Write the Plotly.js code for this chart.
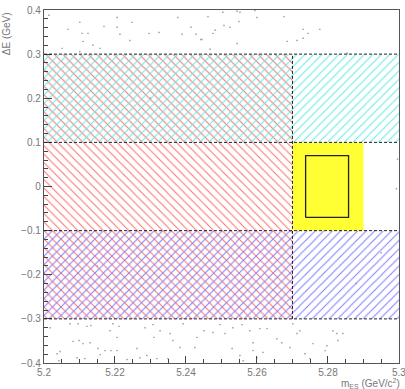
<!DOCTYPE html>
<html>
<head>
<meta charset="utf-8">
<script src="https://cdn.plot.ly/plotly-3.0.1.min.js"></script>
<style>html,body{margin:0;padding:0;background:#fff;}#chart{width:405px;height:389px;}</style>
</head>
<body>
<div id="chart"></div>
<script>
// ---- data ----
// hatched sideband regions (m_ES range, ΔE range)
const bandName = ['red', 'cyan', 'blue'];
const bandX0 = [5.2, 5.2, 5.2];
const bandX1 = [5.27, 5.3, 5.3];
const bandY0 = [-0.3, 0.1, -0.3];
const bandY1 = [0.3, 0.3, -0.1];
// signal box (yellow) and inner box
const sigX = [5.27, 5.29];
const sigY = [-0.1, 0.1];
const boxX = [5.2737, 5.2858];
const boxY = [-0.07, 0.07];
// dashed region borders
const lineX0 = [5.2, 5.2, 5.2, 5.2, 5.27];
const lineX1 = [5.3, 5.3, 5.3, 5.3, 5.27];
const lineY0 = [0.3, 0.1, -0.1, -0.3, -0.3];
const lineY1 = [0.3, 0.1, -0.1, -0.3, 0.3];
// events
const evX = [5.2014,5.2068,5.2101,5.2107,5.2124,5.2110,5.2138,5.2158,5.2169,5.2206,5.2206,5.2214,5.2242,5.2248,5.2296,5.2324,5.2377,5.2389,5.2414,5.2428,5.2445,5.2462,5.2476,5.2504,5.2507,5.2051,5.2101,5.2544,5.2552,5.2594,5.2600,5.2549,5.2524,5.2482,5.2676,5.2730,5.2744,5.2777,5.2730,5.2713,5.2685,5.2544,5.2442,5.2468,5.2854,
  5.2017,5.2073,5.2096,5.2121,5.2132,5.2194,5.2211,5.2186,5.2082,5.2099,5.2110,5.2130,5.2152,5.2172,5.2189,5.2206,5.2206,5.2045,5.2037,5.2042,5.2093,5.2115,5.2158,5.2234,5.2262,5.2270,5.2285,5.2307,5.2327,5.2310,5.2355,5.2363,5.2290,5.2318,5.2349,5.2383,5.2392,5.2425,5.2431,5.2451,5.2476,5.2496,5.2510,5.2532,5.2558,5.2580,5.2608,5.2628,5.2589,5.2589,5.2530,5.2552,5.2561,5.2600,5.2617,5.2656,5.2670,5.2693,5.2713,5.2721,5.2735,5.2749,5.2758,5.2797,5.2814,5.2825,5.2842,5.2828,5.2792,5.2701,
  5.2996,5.2993,5.2950,5.2880,5.2300,5.2150];
const evY = [0.388,0.356,0.372,0.347,0.347,0.329,0.320,0.313,0.363,0.383,0.361,0.345,0.331,0.372,0.347,0.349,0.383,0.345,0.361,0.345,0.333,0.385,0.347,0.395,0.365,0.313,0.306,0.397,0.395,0.399,0.383,0.374,0.361,0.354,0.385,0.356,0.347,0.356,0.336,0.331,0.329,0.324,0.333,0.311,0.302,
  -0.320,-0.311,-0.311,-0.317,-0.315,-0.311,-0.317,-0.327,-0.351,-0.349,-0.356,-0.354,-0.367,-0.372,-0.372,-0.372,-0.342,-0.374,-0.379,-0.395,-0.388,-0.390,-0.381,-0.392,-0.367,-0.388,-0.320,-0.313,-0.327,-0.342,-0.333,-0.349,-0.383,-0.390,-0.390,-0.365,-0.311,-0.365,-0.342,-0.327,-0.331,-0.313,-0.333,-0.320,-0.313,-0.327,-0.322,-0.322,-0.354,-0.372,-0.367,-0.383,-0.395,-0.388,-0.376,-0.345,-0.354,-0.365,-0.333,-0.327,-0.379,-0.390,-0.356,-0.361,-0.327,-0.333,-0.333,-0.349,-0.372,-0.311,
  0.062,-0.005,-0.150,-0.220,0.200,-0.180];
const xTicks = [5.2, 5.22, 5.24, 5.26, 5.28, 5.3];
const xTickText = ['5.2', '5.22', '5.24', '5.26', '5.28', '5.3'];
const yTicks = [-0.4, -0.3, -0.2, -0.1, 0, 0.1, 0.2, 0.3, 0.4];
const yTickText = ['\u22120.4', '\u22120.3', '\u22120.2', '\u22120.1', '0', '0.1', '0.2', '0.3', '0.4'];

// ---- styles ----
const bandStyle = {
  red:  {shape: '\\', fg: '#ff7070'},
  cyan: {shape: '/',  fg: '#66e8e8'},
  blue: {shape: '/',  fg: '#8080ff'}
};

function rectPath(x, y) {
  return {x: [x[0], x[1], x[1], x[0], x[0]], y: [y[0], y[0], y[1], y[1], y[0]]};
}

const traces = [];
bandName.forEach((n, i) => {
  const p = rectPath([bandX0[i], bandX1[i]], [bandY0[i], bandY1[i]]);
  traces.push({
    type: 'scatter', mode: 'none', x: p.x, y: p.y, fill: 'toself',
    fillcolor: 'rgba(0,0,0,0)',
    fillpattern: {shape: bandStyle[n].shape, fgcolor: bandStyle[n].fg, bgcolor: 'rgba(0,0,0,0)', size: 6, solidity: 0.17},
    hoverinfo: 'skip', showlegend: false
  });
});
const sp = rectPath(sigX, sigY);
traces.push({type: 'scatter', mode: 'none', x: sp.x, y: sp.y, fill: 'toself', fillcolor: '#ffff33', hoverinfo: 'skip', showlegend: false});
const bp = rectPath(boxX, boxY);
traces.push({type: 'scatter', mode: 'lines', x: bp.x, y: bp.y, line: {color: '#222', width: 1.3}, hoverinfo: 'skip', showlegend: false});
traces.push({type: 'scatter', mode: 'markers', x: evX, y: evY,
  marker: {symbol: 'square', size: 1.4, color: '#999', line: {width: 0}}, hoverinfo: 'skip', showlegend: false});

const shapes = lineX0.map((x0, i) => ({
  type: 'line', xref: 'x', yref: 'y', x0: x0, x1: lineX1[i], y0: lineY0[i], y1: lineY1[i],
  line: {color: '#222', width: 1, dash: '3px,2px'}, layer: 'above'
}));

const tickFont = {family: 'Liberation Sans, Arial, sans-serif', size: 10, color: '#777'};
const layout = {
  width: 405, height: 389,
  margin: {l: 44, r: 6, t: 10, b: 26},
  paper_bgcolor: '#fff', plot_bgcolor: '#fff',
  showlegend: false,
  xaxis: {
    range: [5.2, 5.30001], tickvals: xTicks, ticktext: xTickText,
    ticks: 'inside', ticklen: 7, tickcolor: '#444', tickwidth: 1,
    minor: {dtick: 0.005, tick0: 5.2, ticks: 'inside', ticklen: 4, tickcolor: '#444'},
    showgrid: false, zeroline: false,
    showline: true, linecolor: '#555', linewidth: 1.2, mirror: true,
    tickfont: tickFont, ticklabeloverflow: 'allow', fixedrange: true
  },
  yaxis: {
    range: [-0.4, 0.4], tickvals: yTicks, ticktext: yTickText,
    ticks: 'inside', ticklen: 8, tickcolor: '#444', tickwidth: 1,
    minor: {dtick: 0.02, tick0: 0, ticks: 'inside', ticklen: 4, tickcolor: '#444'},
    showgrid: false, zeroline: false,
    showline: true, linecolor: '#555', linewidth: 1.2, mirror: true,
    tickfont: tickFont, fixedrange: true
  },
  shapes: shapes,
  annotations: [
    {xref: 'paper', yref: 'paper', x: 1.005, y: -0.079, xanchor: 'right', yanchor: 'bottom', showarrow: false,
     borderpad: 0,
     text: 'm<sub>ES</sub> (GeV/c<sup>2</sup>)', font: {family: 'Liberation Sans, Arial, sans-serif', size: 10, color: '#777'}},
    {xref: 'paper', yref: 'paper', x: -0.105, y: 1, xanchor: 'center', yanchor: 'top', showarrow: false, textangle: -90,
     text: '\u0394E (GeV)', font: {family: 'Liberation Sans, Arial, sans-serif', size: 10, color: '#777'}}
  ]
};

Plotly.newPlot('chart', traces, layout, {staticPlot: true, displayModeBar: false});
</script>
</body>
</html>
